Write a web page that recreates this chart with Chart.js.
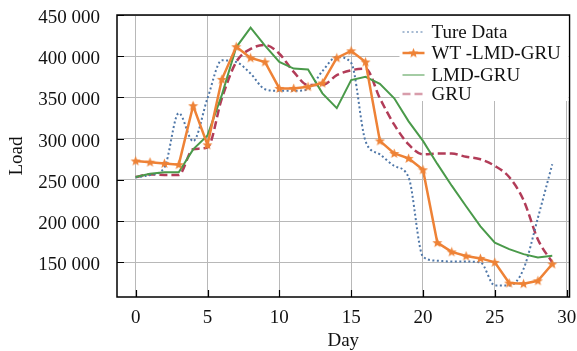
<!DOCTYPE html>
<html>
<head>
<meta charset="utf-8">
<script src="https://cdn.jsdelivr.net/npm/chart.js@4"></script>
<style>
html, body { margin: 0; padding: 0; background: #fff; }
</style>
</head>
<body>
<canvas id="myChart" width="577" height="351"></canvas>
<script>
const days = [0, 1, 2, 3, 4, 5, 6, 7, 8, 9, 10, 11, 12, 13, 14, 15, 16, 17, 18, 19, 20, 21, 22, 23, 24, 25, 26, 27, 28, 29];
const trueData = [253000, 256000, 265000, 331000, 297000, 349000, 395000, 393000, 379000, 360000, 358000, 358000, 360000, 382000, 399000, 392000, 297000, 281000, 267000, 253000, 157000, 152000, 151000, 151000, 150000, 122000, 122000, 142000, 204000, 269000];
const wtLmdGru = [273000, 271500, 270000, 268500, 340000, 292500, 372000, 411500, 398000, 393000, 361000, 361000, 363000, 367500, 398000, 406500, 393000, 297300, 282100, 276100, 262300, 173900, 162700, 157700, 154800, 150000, 124900, 124100, 127700, 148000];
const lmdGru = [253500, 257500, 259400, 259400, 287000, 304000, 353100, 410800, 434700, 412800, 393000, 385000, 384000, 355000, 337000, 371000, 375000, 366500, 349000, 321000, 297300, 269400, 243000, 218000, 193700, 173900, 166000, 160000, 156000, 158000];
const gru = [253500, 256700, 256000, 256000, 287300, 289300, 349000, 393000, 408900, 413600, 403000, 381000, 365000, 365000, 377000, 383000, 385000, 349000, 317000, 293000, 281000, 282000, 282000, 278000, 275000, 267000, 253500, 225600, 177800, 150000];

const seriesNames = ['Ture Data', 'WT -LMD-GRU', 'LMD-GRU', 'GRU'];
const xTicks = [0, 5, 10, 15, 20, 25, 30];
const yTicks = [150000, 200000, 250000, 300000, 350000, 400000, 450000];

const serif = '"Liberation Serif", "Times New Roman", serif';

// filled star used as the marker of the WT-LMD-GRU line
const starImg = (() => {
    const c = document.createElement('canvas');
    c.width = 11;
    c.height = 11;
    const g = c.getContext('2d');
    g.fillStyle = '#ee8236';
    g.beginPath();
    for (let i = 0; i < 10; i++) {
        const r = i % 2 ? 2.3 : 5.3;
        const a = -Math.PI / 2 + i * Math.PI / 5;
        g.lineTo(5.5 + r * Math.cos(a), 5.8 + r * Math.sin(a));
    }
    g.closePath();
    g.fill();
    return c;
})();

function toPoints(values) {
    return values.map((v, i) => ({ x: days[i], y: v }));
}

function fmt(v) {
    return String(v).replace(/\B(?=(\d{3})+(?!\d))/g, ' ');
}

const framePlugin = {
    id: 'frame',
    afterDatasetsDraw(chart) {
        const { ctx, chartArea: a, scales } = chart;
        ctx.save();
        ctx.strokeStyle = '#000';
        ctx.lineWidth = 1.5;
        ctx.strokeRect(a.left, a.top, a.right - a.left, a.bottom - a.top);

        // inward tick marks
        ctx.lineWidth = 1.2;
        ctx.beginPath();
        xTicks.forEach(v => {
            const px = Math.round(scales.x.getPixelForValue(v)) + 0.5;
            ctx.moveTo(px, a.bottom);
            ctx.lineTo(px, a.bottom - 7);
        });
        yTicks.forEach(v => {
            const py = Math.round(scales.y.getPixelForValue(v)) + 0.5;
            ctx.moveTo(a.left, py);
            ctx.lineTo(a.left + 7, py);
        });
        ctx.stroke();

        // legend, top right inside the plot
        const lx = a.right - 167;
        ctx.fillStyle = '#fff';
        ctx.fillRect(lx - 3, a.top + 1, a.right - lx + 2, 85);
        const rows = [a.top + 17, a.top + 38, a.top + 60, a.top + 79];
        chart.data.datasets.forEach((ds, i) => {
            const y = rows[i];
            ctx.save();
            ctx.globalAlpha = i === 1 ? 1 : 0.5;
            ctx.strokeStyle = ds.borderColor;
            ctx.lineWidth = ds.borderWidth;
            ctx.setLineDash(ds.borderDash || []);
            ctx.beginPath();
            ctx.moveTo(lx, y);
            ctx.lineTo(lx + 22, y);
            ctx.stroke();
            ctx.restore();
            if (i === 1) ctx.drawImage(starImg, lx + 11 - 5.5, y - 5.5);
            ctx.fillStyle = '#111';
            ctx.font = '19px ' + serif;
            ctx.textBaseline = 'middle';
            ctx.fillText(ds.label, lx + 29, y + 1);
        });
        ctx.restore();
    }
};

const ctx = document.getElementById('myChart').getContext('2d');
const myChart = new Chart(ctx, {
    type: 'line',
    data: {
        datasets: [
            {
                label: seriesNames[0],
                data: toPoints(trueData),
                borderColor: '#4f77a8',
                borderWidth: 2,
                borderDash: [2, 2.5],
                pointRadius: 0,
                cubicInterpolationMode: 'monotone',
                order: 2
            },
            {
                label: seriesNames[1],
                data: toPoints(wtLmdGru),
                borderColor: '#ee8236',
                borderWidth: 2.5,
                pointStyle: starImg,
                pointRadius: 5,
                tension: 0,
                order: 0
            },
            {
                label: seriesNames[2],
                data: toPoints(lmdGru),
                borderColor: '#4a9a4a',
                borderWidth: 2,
                pointRadius: 0,
                tension: 0,
                order: 1
            },
            {
                label: seriesNames[3],
                data: toPoints(gru),
                borderColor: '#b23c58',
                borderWidth: 2.5,
                borderDash: [8, 4],
                pointRadius: 0,
                cubicInterpolationMode: 'monotone',
                order: 3
            }
        ]
    },
    options: {
        responsive: false,
        animation: false,
        devicePixelRatio: 1,
        layout: { padding: { top: 15, right: 7, left: 0, bottom: 0 } },
        plugins: {
            legend: { display: false },
            tooltip: { enabled: false }
        },
        scales: {
            x: {
                type: 'linear',
                min: -1.3,
                max: 30.2,
                afterBuildTicks: s => { s.ticks = xTicks.map(v => ({ value: v })); },
                afterFit: s => { s.height = 54; s.paddingLeft = 0; s.paddingRight = 0; },
                grid: { color: '#b8b8b8', lineWidth: 1, drawTicks: false },
                border: { display: false },
                ticks: { color: '#111', padding: 10, font: { family: serif, size: 19 }, maxRotation: 0 },
                title: { display: true, text: 'Day', color: '#111', padding: 0, font: { family: serif, size: 19, lineHeight: 1 } }
            },
            y: {
                min: 108000,
                max: 450000,
                afterBuildTicks: s => { s.ticks = yTicks.map(v => ({ value: v })); },
                afterFit: s => { s.width = 117; s.paddingTop = 0; s.paddingBottom = 0; },
                grid: { color: '#b8b8b8', lineWidth: 1, drawTicks: false },
                border: { display: false },
                ticks: { color: '#111', padding: 17, labelOffset: 3, font: { family: serif, size: 19 }, callback: v => fmt(v) },
                title: { display: true, text: 'Load', color: '#111', padding: { top: 6 }, font: { family: serif, size: 19 } }
            }
        }
    },
    plugins: [framePlugin]
});
</script>
</body>
</html>
